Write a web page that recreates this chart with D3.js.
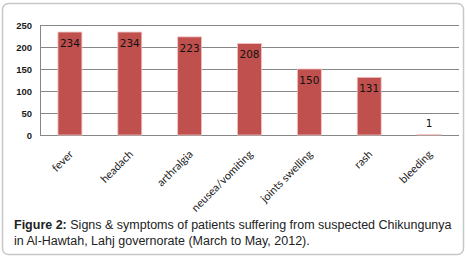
<!DOCTYPE html>
<html><head><meta charset="utf-8">
<script src="https://cdn.jsdelivr.net/npm/d3@7"></script>
<style>html,body{margin:0;padding:0;background:#fff;}svg{display:block;}</style>
</head><body>
<script>
const categories = ["fever","headach","arthralgia","neusea/vomiting","joints swelling","rash","bleeding"];
const values = [234,234,223,208,150,131,1];
const yTicks = [0,50,100,150,200,250];

const W = 467, H = 258;
const svg = d3.select("body").append("svg").attr("width",W).attr("height",H);

svg.append("rect").attr("x",2.5).attr("y",3.5).attr("width",461).attr("height",251)
  .attr("rx",6).attr("fill","#fff").attr("stroke","#c8c8c8").attr("stroke-width",1.5);

const m = {left:40, right:459, top:25, bottom:135};
const x = d3.scaleBand().domain(categories).range([m.left,m.right]).paddingInner(0.6).paddingOuter(0.3);
const y = d3.scaleLinear().domain([0,250]).range([m.bottom,m.top]);

// gridlines
svg.append("g").selectAll("line").data(yTicks).join("line")
  .attr("x1",m.left).attr("x2",m.right)
  .attr("y1",d=>Math.round(y(d))+0.5).attr("y2",d=>Math.round(y(d))+0.5)
  .attr("stroke","#868686").attr("stroke-width",1);

// y axis line
svg.append("line").attr("x1",m.left+0.5).attr("x2",m.left+0.5).attr("y1",m.top).attr("y2",m.bottom)
  .attr("stroke","#868686");

// y axis labels
const yAxis = d3.axisLeft(y).tickValues(yTicks).tickSize(0).tickPadding(8);
const ya = svg.append("g").attr("transform",`translate(${m.left},0)`).call(yAxis);
ya.select(".domain").remove();
ya.selectAll("text").attr("font-family","Liberation Sans, Arial, sans-serif").attr("font-size",9.5)
  .attr("font-weight","bold").attr("fill","#1a1a1a");

// bars
svg.append("g").selectAll("rect").data(values).join("rect")
  .attr("x",(d,i)=>x(categories[i]))
  .attr("y",d=>y(d))
  .attr("width",x.bandwidth())
  .attr("height",d=>y(0)-y(d))
  .attr("fill","#C0504D")
  .attr("stroke","#f2c4c3").attr("stroke-width",0.8);

// value labels
svg.append("g").selectAll("text").data(values).join("text")
  .attr("x",(d,i)=>x(categories[i])+x.bandwidth()/2)
  .attr("y",d=> (y(0)-y(d) > 20) ? y(d)+15 : y(d)-8)
  .attr("text-anchor","middle")
  .attr("font-family","DejaVu Sans, sans-serif").attr("font-size",10.5)
  .attr("fill","#111")
  .text(d=>d);

// x axis labels
const xa = svg.append("g").attr("transform",`translate(0,${m.bottom})`)
  .call(d3.axisBottom(x).tickSize(0).tickPadding(0));
xa.select(".domain").remove();
xa.selectAll("text")
  .attr("font-family","Lato, Liberation Sans, sans-serif").attr("font-size",11).attr("fill","#222")
  .attr("text-anchor","end").attr("dy",0)
  .attr("transform","translate(4,20) rotate(-45)");

// caption
const cap = svg.append("text").attr("x",14).attr("y",229)
  .attr("font-family","Liberation Sans, Arial, sans-serif").attr("font-size",12.5).attr("fill","#222");
cap.append("tspan").attr("font-weight","bold").text("Figure 2:");
cap.append("tspan").text(" Signs & symptoms of patients suffering from suspected Chikungunya");
svg.append("text").attr("x",14).attr("y",245)
  .attr("font-family","Liberation Sans, Arial, sans-serif").attr("font-size",12.5).attr("fill","#222")
  .text("in Al-Hawtah, Lahj governorate (March to May, 2012).");
</script>
</body></html>
